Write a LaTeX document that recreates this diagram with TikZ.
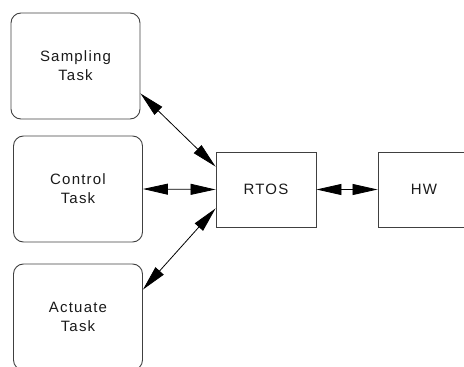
\documentclass[tikz,border=0pt]{standalone}
\usepackage{fontspec}
\setmainfont{Liberation Sans}[LetterSpace=8]
\usetikzlibrary{arrows.meta}
\definecolor{edge}{HTML}{404040}
\definecolor{ink}{HTML}{1A1A1A}
\tikzset{
  taskbox/.style={draw=edge, line width=0.9pt, rounded corners=10pt,
    minimum width=129pt, minimum height=106pt, inner sep=0pt,
    align=center, font=\fontsize{15pt}{19pt}\selectfont, text=ink},
  sysbox/.style={draw=edge, line width=0.9pt,
    minimum width=100pt, minimum height=75pt, inner sep=0pt,
    align=center, font=\fontsize{15pt}{19pt}\selectfont, text=ink},
  link/.style={draw=black, line width=0.8pt,
    {Triangle[length=25pt,width=11pt]}-{Triangle[length=25pt,width=11pt]}}
}
\begin{document}
\begin{tikzpicture}[x=1pt,y=-1pt]
  \useasboundingbox (0,0) rectangle (464,367);
  \clip (0,0) rectangle (464,367);

  % task boxes on the left
  \node[taskbox] (samp) at (75.5,66) {Sampling\\Task};
  \node[taskbox] (ctrl) at (78,189) {Control\\Task};
  \node[taskbox] (act)  at (78,317) {Actuate\\Task};

  % kernel and hardware
  \node[sysbox] (rtos) at (266,189.5) {RTOS};
  \node[sysbox, minimum width=92pt] (hw) at (424,189.5) {HW};

  % connections
  \draw[link] ([yshift=26pt]samp.south east) -- ([yshift=-15pt]rtos.north west);
  \draw[link] (ctrl.east) -- (rtos.west);
  \draw[link] ([yshift=-26pt]act.north east) -- ([yshift=19pt]rtos.south west);
  \draw[link] (rtos.east) -- (hw.west);
\end{tikzpicture}
\end{document}
